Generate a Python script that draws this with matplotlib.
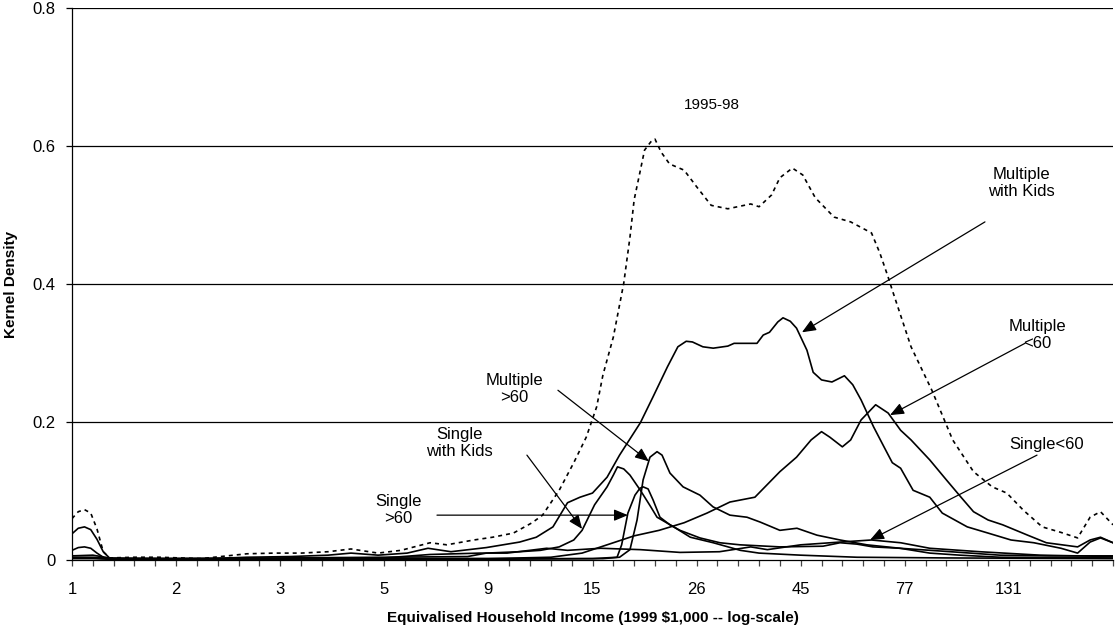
import matplotlib
matplotlib.use("Agg")
import matplotlib.pyplot as plt
from matplotlib.ticker import FixedLocator, MultipleLocator

plt.rcParams['font.family'] = ['Liberation Sans', 'DejaVu Sans']

# x positions are in axis-tick units (log-income scale: 5 ticks per labelled step)
tick_pos = [0, 5, 10, 15, 20, 25, 30, 35, 40, 45]
tick_labels = ["1", "2", "3", "5", "9", "15", "26", "45", "77", "131"]

total_x = [0, 0.3, 0.6, 0.9, 1.2, 1.5, 1.8, 3.0, 4.2, 6.2, 8.4, 9.7, 11.0, 12.3, 13.4, 14.7, 15.8,
           17.2, 18.0, 19.3, 20.2, 21.2, 22.1, 22.6, 23.4, 24.1, 24.7, 25.2, 25.5, 26.0, 26.5, 26.8,
           27.0, 27.3, 27.5, 27.8, 28.0, 28.3, 28.7, 29.4, 30.0, 30.7, 31.5, 32.6, 33.0, 33.6, 34.0,
           34.6, 35.1, 35.7, 36.6, 37.4, 38.4, 38.8, 39.2, 39.4, 40.3, 41.3, 42.3, 43.3, 44.2, 44.9,
           45.7, 46.6, 47.5, 48.3, 48.9, 49.4, 50]
total_y = [0.060, 0.070, 0.073, 0.068, 0.045, 0.012, 0.003, 0.004, 0.004, 0.002, 0.009, 0.010, 0.010,
           0.012, 0.016, 0.010, 0.014, 0.025, 0.022, 0.029, 0.033, 0.039, 0.054, 0.065, 0.101, 0.141,
           0.178, 0.222, 0.268, 0.323, 0.401, 0.468, 0.522, 0.565, 0.594, 0.606, 0.610, 0.591, 0.574,
           0.565, 0.541, 0.514, 0.509, 0.516, 0.512, 0.529, 0.554, 0.568, 0.558, 0.525, 0.497, 0.490,
           0.474, 0.445, 0.410, 0.391, 0.309, 0.246, 0.174, 0.128, 0.106, 0.097, 0.072, 0.048, 0.040,
           0.032, 0.062, 0.070, 0.051]

mult_kids_x = [0, 0.3, 0.6, 0.9, 1.2, 1.5, 1.8, 4.2, 5.8, 8.4, 10.5, 12.3, 13.4, 14.7, 16.1, 17.1, 18.2,
               19.9, 21.5, 22.3, 23.1, 23.5, 23.8, 24.4, 25.0, 25.7, 26.3, 27.3, 27.9, 28.6, 29.1, 29.5,
               29.8, 30.3, 30.8, 31.5, 31.8, 32.9, 33.2, 33.5, 33.9, 34.15, 34.5, 34.8, 35.3, 35.6, 36.0,
               36.5, 36.9, 37.1, 37.5, 37.9, 38.5, 39.0, 39.4, 39.8, 40.4, 41.2, 41.8, 43.0, 44.0, 45.1,
               46.2, 47.5, 48.3, 48.9, 49.4, 50]
mult_kids_y = [0.038, 0.046, 0.048, 0.044, 0.030, 0.012, 0.003, 0.002, 0.001, 0.004, 0.005, 0.007, 0.010,
               0.007, 0.010, 0.017, 0.012, 0.018, 0.026, 0.033, 0.048, 0.068, 0.083, 0.091, 0.097, 0.120,
               0.152, 0.199, 0.236, 0.280, 0.309, 0.317, 0.316, 0.309, 0.307, 0.310, 0.314, 0.314, 0.326,
               0.330, 0.345, 0.351, 0.346, 0.336, 0.304, 0.272, 0.261, 0.258, 0.264, 0.267, 0.254, 0.232,
               0.193, 0.164, 0.141, 0.133, 0.101, 0.091, 0.068, 0.048, 0.039, 0.029, 0.025, 0.017, 0.010,
               0.026, 0.032, 0.025]

mult_lt60_x = [0, 0.3, 0.6, 0.9, 1.2, 1.6, 3, 8, 12, 16, 20, 23, 24.5, 25.7, 27.0, 28.2, 29.4, 30.5, 31.6,
               32.8, 34.0, 34.8, 35.5, 36.0, 36.4, 37.0, 37.4, 37.9, 38.6, 39.2, 39.8, 40.3, 41.2, 42.0,
               42.7, 43.3, 44.0, 44.7, 45.9, 46.8, 48.3, 48.9, 49.4, 50]
mult_lt60_y = [0.014, 0.018, 0.019, 0.017, 0.010, 0.002, 0.001, 0.001, 0.002, 0.002, 0.002, 0.004, 0.010,
               0.022, 0.035, 0.043, 0.054, 0.068, 0.084, 0.091, 0.128, 0.149, 0.174, 0.186, 0.178, 0.164,
               0.174, 0.203, 0.225, 0.213, 0.188, 0.174, 0.145, 0.116, 0.091, 0.070, 0.058, 0.051, 0.036,
               0.025, 0.019, 0.029, 0.033, 0.025]

mult_gt60_x = [0, 1, 2, 10, 20, 25.5, 26.3, 26.8, 27.14, 27.43, 27.76, 28.1, 28.34, 28.72, 29.35, 30.16,
               30.79, 31.6, 32.42, 33.05, 34.0, 34.82, 35.78, 36.89, 38.18, 39.77, 41.2, 42.65, 44.57, 50]
mult_gt60_y = [0.004, 0.004, 0.002, 0.002, 0.002, 0.002, 0.004, 0.015, 0.058, 0.116, 0.149, 0.157, 0.152,
               0.126, 0.106, 0.094, 0.077, 0.065, 0.062, 0.055, 0.043, 0.046, 0.036, 0.029, 0.022, 0.017,
               0.010, 0.007, 0.004, 0.003]

single_kids_x = [0, 1, 2, 10, 15, 19.0, 19.9, 21.5, 22.5, 23.4, 24.1, 24.5, 25.1, 25.7, 26.0, 26.2, 26.5,
                 26.8, 27.3, 27.8, 28.1, 28.9, 29.7, 30.8, 32.1, 33.0, 35.0, 37.7, 42, 50]
single_kids_y = [0.006, 0.007, 0.002, 0.003, 0.004, 0.005, 0.010, 0.012, 0.014, 0.019, 0.029, 0.043, 0.080,
                 0.106, 0.123, 0.135, 0.132, 0.123, 0.101, 0.077, 0.062, 0.048, 0.033, 0.025, 0.014, 0.010,
                 0.007, 0.004, 0.003, 0.002]

single_gt60_x = [0, 1, 2, 10, 20, 25.0, 26.18, 26.4, 26.7, 27.04, 27.28, 27.43, 27.67, 27.91, 28.24, 28.72,
                 29.2, 30.16, 31.12, 32.08, 34.0, 36.07, 36.89, 37.7, 38.47, 39.77, 42.2, 44.57, 47, 50]
single_gt60_y = [0.003, 0.003, 0.001, 0.001, 0.001, 0.002, 0.004, 0.022, 0.068, 0.094, 0.104, 0.106, 0.103,
                 0.087, 0.062, 0.051, 0.043, 0.032, 0.025, 0.022, 0.019, 0.020, 0.025, 0.023, 0.019, 0.017,
                 0.012, 0.007, 0.006, 0.006]

single_lt60_x = [0, 1, 2, 10, 15, 17.2, 19.6, 20.9, 22.8, 23.8, 25.4, 27.3, 29.2, 31.1, 32.6, 33.4, 35.0,
                 36.9, 38.4, 39.8, 41.2, 43.6, 46.5, 50]
single_lt60_y = [0.002, 0.002, 0.001, 0.002, 0.003, 0.008, 0.010, 0.010, 0.017, 0.014, 0.017, 0.015, 0.011,
                 0.012, 0.019, 0.015, 0.022, 0.026, 0.029, 0.025, 0.017, 0.012, 0.007, 0.005]

fig = plt.figure(figsize=(11.17, 6.32), dpi=100)
ax = fig.add_axes([72 / 1117, 1 - 560 / 632, (1113 - 72) / 1117, (560 - 8) / 632])

for yv in [0.2, 0.4, 0.6, 0.8]:
    ax.axhline(yv, color='black', lw=0.9, zorder=1)

lw = 1.2
ax.plot(total_x, total_y, color='black', lw=lw, dashes=(2.4, 2.4), zorder=3)
for xs, ys in [(mult_kids_x, mult_kids_y), (mult_lt60_x, mult_lt60_y), (mult_gt60_x, mult_gt60_y),
               (single_kids_x, single_kids_y), (single_gt60_x, single_gt60_y),
               (single_lt60_x, single_lt60_y)]:
    ax.plot(xs, ys, color='black', lw=lw, zorder=3)

ax.set_xlim(0, 50)
ax.set_ylim(0, 0.8)
ax.spines['top'].set_visible(False)
ax.spines['right'].set_visible(False)
ax.spines['left'].set_linewidth(0.9)
ax.spines['bottom'].set_linewidth(0.9)

ax.xaxis.set_major_locator(FixedLocator(tick_pos))
ax.set_xticklabels(tick_labels)
ax.xaxis.set_minor_locator(MultipleLocator(1))
ax.tick_params(axis='x', which='both', direction='out', length=4, width=0.9, color='#444444')
ax.tick_params(axis='x', which='major', pad=12, labelsize=12)
ax.set_yticks([0, 0.2, 0.4, 0.6, 0.8])
ax.set_yticklabels(["0", "0.2", "0.4", "0.6", "0.8"])
ax.tick_params(axis='y', direction='out', length=4, width=0.9, pad=8, labelsize=12)

ax.set_xlabel("Equivalised Household Income (1999 $1,000 -- log-scale)", fontsize=11, fontweight='bold', labelpad=10)
ax.set_ylabel("Kernel Density", fontsize=11, fontweight='bold', labelpad=10)

ax.text(30.74, 0.659, "1995-98", ha='center', va='center', fontsize=11)

txt = dict(ha='center', va='center', fontsize=12, linespacing=1.15)
ax.text(45.58, 0.546, "Multiple\nwith Kids", **txt)
ax.text(46.35, 0.326, "Multiple\n<60", **txt)
ax.text(46.83, 0.167, "Single<60", **txt)
ax.text(21.23, 0.248, "Multiple\n>60", **txt)
ax.text(18.59, 0.170, "Single\nwith Kids", **txt)
ax.text(15.66, 0.072, "Single\n>60", **txt)

arrow = dict(arrowstyle='-|>,head_length=0.6,head_width=0.25', color='black', lw=0.9,
             mutation_scale=14, shrinkA=0, shrinkB=0)
arrows = [((35.06, 0.330), (43.85, 0.490)),
          ((39.29, 0.210), (45.77, 0.314)),
          ((38.33, 0.029), (46.35, 0.152)),
          ((27.71, 0.143), (23.34, 0.246)),
          ((24.50, 0.045), (21.85, 0.152)),
          ((26.70, 0.065), (17.53, 0.065))]
for tip, start in arrows:
    ax.annotate('', xy=tip, xytext=start, arrowprops=arrow, zorder=4)

fig.savefig("out.png", dpi=100)
